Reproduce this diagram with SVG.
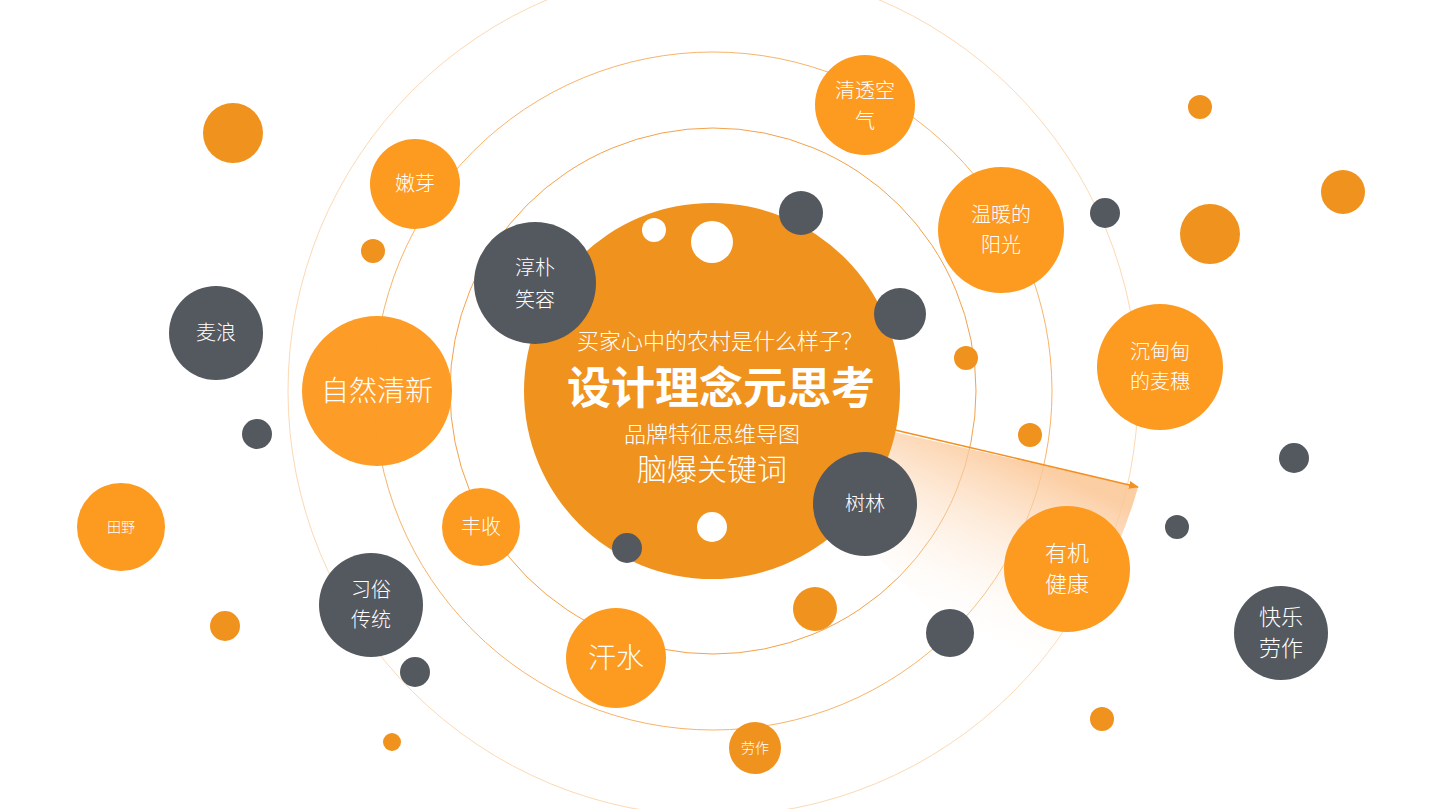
<svg xmlns="http://www.w3.org/2000/svg" width="1432" height="809" viewBox="0 0 1432 809">
<style>
.o{fill:#fd9a20}
.od{fill:#f0921e}
.g{fill:#54585f}
.w{fill:#ffffff}
.t{fill:#ffffff;font-family:"Noto Sans CJK SC","Noto Sans",sans-serif;font-weight:300;text-anchor:middle}
.ring{fill:none;stroke-width:1}
</style>
<defs>
<linearGradient id="wedge" gradientUnits="userSpaceOnUse" x1="980" y1="440" x2="900" y2="620">
<stop offset="0" stop-color="#fbc593" stop-opacity="0.85"/>
<stop offset="1" stop-color="#ffffff" stop-opacity="0"/>
</linearGradient>
<marker id="ah" markerWidth="10" markerHeight="8" refX="9" refY="4" orient="auto" markerUnits="userSpaceOnUse">
<path d="M0,0 L10,4 L0,8 Z" fill="#f39020"/>
</marker>
</defs>
<rect width="1432" height="809" fill="#ffffff"/>
<g id="rings">
<circle class="ring" cx="713" cy="391" r="425" stroke="#fcd9b4"/>
<circle class="ring" cx="713" cy="391" r="339" stroke="#f7b46a"/>
<circle class="ring" cx="713" cy="391" r="263" stroke="#f3a24a"/>
</g>
<path id="highlight" d="M712 391 L1138 487 A425 425 0 0 1 1012 691 Z" fill="url(#wedge)"/>
<g id="connectors">
<line x1="895" y1="430" x2="1138" y2="487" stroke="#f39020" stroke-width="1.5" marker-end="url(#ah)"/>
</g>
<g id="center">
<circle class="od" cx="712" cy="391" r="188"/>
<circle class="w" cx="654" cy="230" r="12"/>
<circle class="w" cx="712" cy="242" r="21"/>
<circle class="w" cx="712" cy="527" r="15"/>
<text class="t" x="720" y="349" font-size="22">买家心中的农村是什么样子？</text>
<text class="t" x="721" y="404" font-size="44" font-weight="700" style="font-weight:700">设计理念元思考</text>
<text class="t" x="712" y="442" font-size="22">品牌特征思维导图</text>
<text class="t" x="712" y="480" font-size="30">脑爆关键词</text>
</g>
<g id="dots">
<circle class="od" cx="233" cy="133" r="30"/>
<circle class="od" cx="373" cy="251" r="12"/>
<circle class="g" cx="257" cy="434" r="15"/>
<circle class="od" cx="225" cy="626" r="15"/>
<circle class="g" cx="415" cy="672" r="15"/>
<circle class="od" cx="392" cy="742" r="9"/>
<circle class="g" cx="627" cy="548" r="15"/>
<circle class="g" cx="801" cy="213" r="22"/>
<circle class="g" cx="900" cy="314" r="26"/>
<circle class="od" cx="966" cy="358" r="12"/>
<circle class="od" cx="1030" cy="435" r="12"/>
<circle class="od" cx="815" cy="609" r="22"/>
<circle class="g" cx="950" cy="633" r="24"/>
<circle class="od" cx="1102" cy="719" r="12"/>
<circle class="g" cx="1177" cy="527" r="12"/>
<circle class="g" cx="1294" cy="458" r="15"/>
<circle class="g" cx="1105" cy="213" r="15"/>
<circle class="od" cx="1200" cy="107" r="12"/>
<circle class="od" cx="1343" cy="192" r="22"/>
<circle class="od" cx="1210" cy="234" r="30"/>
</g>
<g id="n-qingtou"><circle class="o" cx="865" cy="105" r="50"/><text class="t" x="865" y="98" font-size="20">清透空</text><text class="t" x="865" y="128" font-size="20">气</text></g>
<g id="n-wennuan"><circle class="o" cx="1001" cy="230" r="63"/><text class="t" x="1001" y="222" font-size="20">温暖的</text><text class="t" x="1001" y="252" font-size="20">阳光</text></g>
<g id="n-maisui"><circle class="o" cx="1160" cy="367" r="63"/><text class="t" x="1160" y="359" font-size="20">沉甸甸</text><text class="t" x="1160" y="389" font-size="20">的麦穗</text></g>
<g id="n-youji"><circle class="o" cx="1067" cy="569" r="63"/><text class="t" x="1067" y="561" font-size="22">有机</text><text class="t" x="1067" y="592" font-size="22">健康</text></g>
<g id="n-kuaile"><circle class="g" cx="1281" cy="633" r="47"/><text class="t" x="1281" y="625" font-size="22">快乐</text><text class="t" x="1281" y="656" font-size="22">劳作</text></g>
<g id="n-shulin"><circle class="g" cx="865" cy="504" r="52"/><text class="t" x="865" y="511" font-size="20">树林</text></g>
<g id="n-laozuo"><circle class="od" cx="755" cy="748" r="26"/><text class="t" x="755" y="753" font-size="14">劳作</text></g>
<g id="n-hanshui"><circle class="o" cx="616" cy="658" r="50"/><text class="t" x="616" y="668" font-size="28">汗水</text></g>
<g id="n-xisu"><circle class="g" cx="371" cy="605" r="52"/><text class="t" x="371" y="597" font-size="20">习俗</text><text class="t" x="371" y="627" font-size="20">传统</text></g>
<g id="n-fengshou"><circle class="o" cx="481" cy="527" r="39"/><text class="t" x="481" y="534" font-size="20">丰收</text></g>
<g id="n-tianye"><circle class="o" cx="121" cy="527" r="44"/><text class="t" x="121" y="532" font-size="14">田野</text></g>
<g id="n-ziran"><circle class="o" cx="377" cy="391" r="75" fill-opacity="0.97"/><text class="t" x="377" y="401" font-size="28">自然清新</text></g>
<g id="n-mailang"><circle class="g" cx="216" cy="333" r="47"/><text class="t" x="216" y="340" font-size="20">麦浪</text></g>
<g id="n-chunpu"><circle class="g" cx="535" cy="283" r="61"/><text class="t" x="535" y="275" font-size="20">淳朴</text><text class="t" x="535" y="307" font-size="20">笑容</text></g>
<g id="n-nenya"><circle class="o" cx="415" cy="184" r="45"/><text class="t" x="415" y="191" font-size="20">嫩芽</text></g>
</svg>
